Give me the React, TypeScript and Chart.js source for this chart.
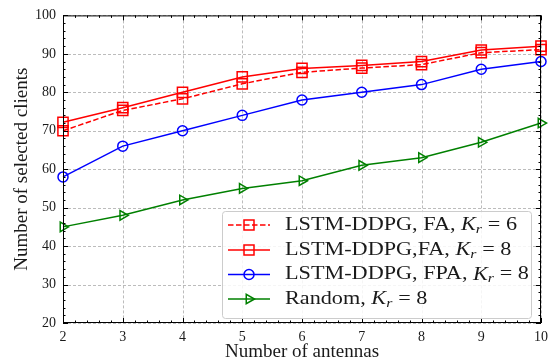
import React, { useEffect, useRef } from "react";
import { Chart, registerables } from "chart.js";
Chart.register(...registerables);

const antennas = [2, 3, 4, 5, 6, 7, 8, 9, 10];
const faKr6 = [70, 75.3, 78.3, 82.2, 85.2, 86.3, 87.2, 90.3, 91.1];
const faKr8 = [72.2, 76, 80, 84, 86.2, 87, 88, 91, 92];
const fpaKr8 = [58, 66, 70, 74, 78, 80, 82, 86, 88];
const randomKr8 = [45, 48, 52, 55, 57, 61, 63, 67, 72];
const xTickValues = [2, 3, 4, 5, 6, 7, 8, 9, 10];
const yTickValues = [20, 30, 40, 50, 60, 70, 80, 90, 100];
const xLabel = "Number of antennas";
const yLabel = "Number of selected clients";

const legendItems = [
  { prefix: "LSTM-DDPG, FA, ", value: "6", color: "#ff0000", dash: [5.5, 2.5], marker: "square" },
  { prefix: "LSTM-DDPG,FA, ", value: "8", color: "#ff0000", dash: [], marker: "square" },
  { prefix: "LSTM-DDPG, FPA, ", value: "8", color: "#0000ff", dash: [], marker: "circle" },
  { prefix: "Random, ", value: "8", color: "#008000", dash: [], marker: "triangle" },
];

const FONT = "'Liberation Serif', 'DejaVu Serif', serif";
const TEXT = "#1a1a1a";

function pts(ys: number[]) {
  return antennas.map((x, i) => ({ x, y: ys[i] }));
}

function drawMarker(ctx: CanvasRenderingContext2D, kind: string, x: number, y: number, color: string) {
  ctx.save();
  ctx.strokeStyle = color;
  ctx.lineWidth = 1.5;
  ctx.setLineDash([]);
  ctx.beginPath();
  if (kind === "square") {
    ctx.rect(x - 5, y - 5, 10, 10);
  } else if (kind === "circle") {
    ctx.arc(x, y, 5, 0, Math.PI * 2);
  } else {
    const r = 5.5;
    for (let k = 0; k < 3; k++) {
      const a = Math.PI / 2 + (k * 2 * Math.PI) / 3;
      const px = x + Math.sin(a) * r;
      const py = y - Math.cos(a) * r;
      if (k === 0) ctx.moveTo(px, py);
      else ctx.lineTo(px, py);
    }
    ctx.closePath();
  }
  ctx.stroke();
  ctx.restore();
}

function legendRow(ctx: CanvasRenderingContext2D, it: any, x0: number, y: number, draw: boolean) {
  let x = x0;
  const seg = (t: string, font: string, dy: number) => {
    ctx.font = font;
    if (draw) ctx.fillText(t, x, y + dy);
    x += ctx.measureText(t).width;
  };
  seg(it.prefix, `19px ${FONT}`, 0);
  seg("K", `italic 19px ${FONT}`, 0);
  seg("r", `italic 13.5px ${FONT}`, 4);
  x += 5;
  seg("= " + it.value, `19px ${FONT}`, 0);
  return x - x0;
}

const framePlugin = {
  id: "frame",
  beforeDatasetsDraw(chart: any) {
    const { ctx, chartArea } = chart;
    const { left, right, top, bottom } = chartArea;
    const xs = chart.scales.x;
    const ys = chart.scales.y;
    ctx.save();
    ctx.strokeStyle = "#b4b4b4";
    ctx.lineWidth = 0.9;
    ctx.setLineDash([3, 2]);
    ctx.beginPath();
    xTickValues.forEach((v) => {
      const px = Math.round(xs.getPixelForValue(v)) + 0.5;
      ctx.moveTo(px, top);
      ctx.lineTo(px, bottom);
    });
    yTickValues.forEach((v) => {
      const py = Math.round(ys.getPixelForValue(v)) + 0.5;
      ctx.moveTo(left, py);
      ctx.lineTo(right, py);
    });
    ctx.stroke();
    ctx.restore();
  },
  afterDatasetsDraw(chart: any) {
    const { ctx, chartArea } = chart;
    const { left, right, top, bottom } = chartArea;
    const xs = chart.scales.x;
    const ys = chart.scales.y;
    ctx.save();
    ctx.strokeStyle = "#000";
    ctx.lineWidth = 1;
    ctx.setLineDash([]);
    ctx.strokeRect(left + 0.5, top + 0.5, right - left - 1, bottom - top - 1);
    ctx.beginPath();
    for (let i = 0; i <= 40; i++) {
      const v = 2 + i * 0.2;
      const major = i % 5 === 0;
      const len = major ? 5 : 2.5;
      const px = Math.round(xs.getPixelForValue(v)) + 0.5;
      ctx.moveTo(px, bottom);
      ctx.lineTo(px, bottom - len);
      ctx.moveTo(px, top);
      ctx.lineTo(px, top + len);
    }
    for (let i = 0; i <= 40; i++) {
      const v = 20 + i * 2;
      const major = i % 5 === 0;
      const len = major ? 5 : 2.5;
      const py = Math.round(ys.getPixelForValue(v)) + 0.5;
      ctx.moveTo(left, py);
      ctx.lineTo(left + len, py);
      ctx.moveTo(right, py);
      ctx.lineTo(right - len, py);
    }
    ctx.stroke();
    ctx.restore();
  },
  afterDraw(chart: any) {
    const { ctx } = chart;
    const bx = 222.5, by = 211.5, bw = 309, bh = 107;
    ctx.save();
    ctx.fillStyle = "rgba(255,255,255,0.85)";
    ctx.strokeStyle = "#cccccc";
    ctx.lineWidth = 1;
    ctx.setLineDash([]);
    ctx.beginPath();
    ctx.roundRect(bx, by, bw, bh, 3);
    ctx.fill();
    ctx.stroke();
    const rowY = [225, 250, 274.5, 299];
    const w0 = legendRow(ctx, legendItems[0], 0, 0, false);
    const sx = 232 / w0;
    legendItems.forEach((it, i) => {
      const y = rowY[i];
      ctx.strokeStyle = it.color;
      ctx.lineWidth = 1.5;
      ctx.setLineDash(it.dash);
      ctx.beginPath();
      ctx.moveTo(228, y);
      ctx.lineTo(270, y);
      ctx.stroke();
      drawMarker(ctx, it.marker, 249, y, it.color);
      ctx.save();
      ctx.fillStyle = TEXT;
      ctx.textBaseline = "middle";
      ctx.textAlign = "left";
      ctx.translate(285, 0);
      ctx.scale(sx, 1);
      legendRow(ctx, it, 0, y, true);
      ctx.restore();
    });
    ctx.restore();
  },
};

export default function App() {
  const ref = useRef<HTMLCanvasElement | null>(null);
  useEffect(() => {
    document.body.style.margin = "0";
    const common = { borderWidth: 1.5, pointBorderWidth: 1.5, pointBackgroundColor: "rgba(0,0,0,0)", fill: false, tension: 0 };
    const chart = new Chart(ref.current as HTMLCanvasElement, {
      type: "line",
      data: {
        datasets: [
          { ...common, label: "LSTM-DDPG, FA, Kr = 6", data: pts(faKr6), borderColor: "#ff0000", pointBorderColor: "#ff0000", borderDash: [5.5, 2.5], pointStyle: "rect", pointRadius: 7.2 },
          { ...common, label: "LSTM-DDPG,FA, Kr = 8", data: pts(faKr8), borderColor: "#ff0000", pointBorderColor: "#ff0000", pointStyle: "rect", pointRadius: 7.2 },
          { ...common, label: "LSTM-DDPG, FPA, Kr = 8", data: pts(fpaKr8), borderColor: "#0000ff", pointBorderColor: "#0000ff", pointStyle: "circle", pointRadius: 5 },
          { ...common, label: "Random, Kr = 8", data: pts(randomKr8), borderColor: "#008000", pointBorderColor: "#008000", pointStyle: "triangle", pointRotation: 90, pointRadius: 5.5 },
        ] as any,
      },
      options: {
        responsive: false,
        animation: false,
        clip: false,
        layout: { padding: { top: 14, right: 11, left: 0, bottom: 0 } },
        plugins: { legend: { display: false }, tooltip: { enabled: false } },
        scales: {
          x: {
            type: "linear",
            min: 2,
            max: 10,
            afterBuildTicks: (s: any) => { s.ticks = xTickValues.map((v) => ({ value: v })); },
            afterFit: (s: any) => { s.height = 39; },
            ticks: { color: TEXT, font: { family: FONT, size: 14 }, padding: 6, maxRotation: 0, autoSkip: false },
            grid: { display: false, drawTicks: false },
            border: { display: false },
            title: { display: true, text: xLabel, color: TEXT, font: { family: FONT, size: 19 }, padding: { top: 0, bottom: -1 } },
          },
          y: {
            type: "linear",
            min: 20,
            max: 100,
            afterBuildTicks: (s: any) => { s.ticks = yTickValues.map((v) => ({ value: v })); },
            afterFit: (s: any) => { s.width = 63; },
            ticks: { color: TEXT, font: { family: FONT, size: 14 }, padding: 7, autoSkip: false },
            grid: { display: false, drawTicks: false },
            border: { display: false },
            title: { display: true, text: yLabel, color: TEXT, font: { family: FONT, size: 19 }, padding: { top: 11, bottom: 0 } },
          },
        },
      } as any,
      plugins: [framePlugin],
    });
    return () => chart.destroy();
  }, []);
  return (
    <div style={{ position: "fixed", left: 0, top: 0, width: 554, height: 362, background: "#fff" }}>
      <canvas ref={ref} width={554} height={362} style={{ width: 554, height: 362, display: "block" }} />
    </div>
  );
}
